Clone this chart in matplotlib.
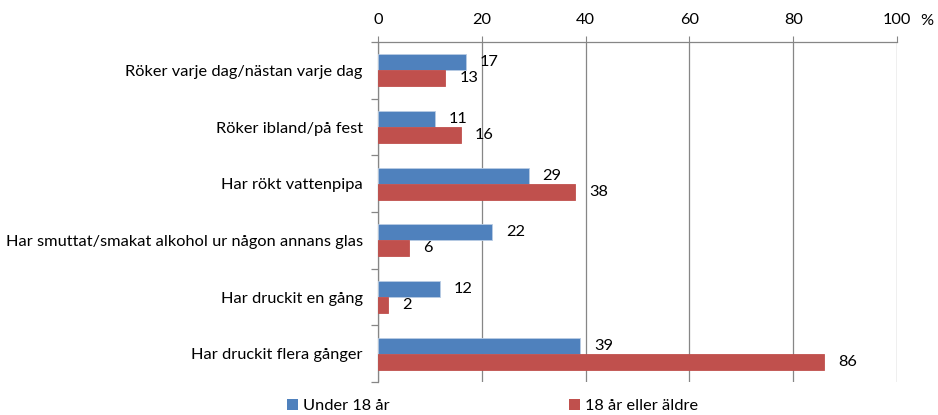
import matplotlib
matplotlib.use("Agg")
import matplotlib.pyplot as plt
import numpy as np
from matplotlib.patches import Patch

categories = [
    "Röker varje dag/nästan varje dag",
    "Röker ibland/på fest",
    "Har rökt vattenpipa",
    "Har smuttat/smakat alkohol ur någon annans glas",
    "Har druckit en gång",
    "Har druckit flera gånger",
]
under18 = [17, 11, 29, 22, 12, 39]
over18 = [13, 16, 38, 6, 2, 86]
series_names = ["Under 18 år", "18 år eller äldre"]
xticks = [0, 20, 40, 60, 80, 100]

plt.rcParams['font.family'] = ['Lato', 'DejaVu Sans']
blue = "#4F81BD"
red = "#C0504D"
fs = 11.8

fig = plt.figure(figsize=(9.38, 4.15), dpi=100)
ax = fig.add_axes([378/938, 1-382/415, (897-378)/938, (382-42)/415])

n = len(categories)
y = np.arange(n)
h = 0.285
ax.barh(y - h/2, under18, height=h, color=blue, edgecolor="#B8CCE4", linewidth=0.6, zorder=3)
ax.barh(y + h/2, over18, height=h, color=red, edgecolor=red, linewidth=0.6, zorder=3)

for yi, v in zip(y, under18):
    ax.annotate(str(v), (v, yi - h/2), xytext=(10, 0), textcoords="offset points",
                va="center", ha="left", fontsize=fs)
for yi, v in zip(y, over18):
    ax.annotate(str(v), (v, yi + h/2), xytext=(10, 0), textcoords="offset points",
                va="center", ha="left", fontsize=fs)

ax.set_xlim(0, 100)
ax.set_ylim(n - 0.5, -0.5)
ax.xaxis.tick_top()
ax.set_xticks(xticks)
ax.set_xticklabels([str(t) for t in xticks], fontsize=fs)
ax.tick_params(axis='x', length=4, color="#868686", pad=7)
ax.grid(axis='x', color="#868686", linewidth=0.9, zorder=0)

ax.set_yticks(y)
ax.set_yticklabels(categories, fontsize=fs)
ax.tick_params(axis='y', which='major', length=0, pad=11)
ax.set_yticks(np.arange(-0.5, n + 0.5, 1), minor=True)
ax.tick_params(axis='y', which='minor', length=5, color="#868686", width=0.9)

for s in ["right", "bottom"]:
    ax.spines[s].set_visible(False)
ax.spines["top"].set_color("#868686")
ax.spines["left"].set_color("#868686")
ax.spines["top"].set_linewidth(0.9)
ax.spines["left"].set_linewidth(0.9)

fig.text(927/938, 1-21/415, "%", fontsize=fs, ha="center", va="center")

handles = [Patch(facecolor=blue), Patch(facecolor=red)]
fig.legend(handles[:1], series_names[:1], loc="center left", bbox_to_anchor=(287/938, 1-406/415),
           frameon=False, fontsize=fs, handlelength=0.65, handleheight=0.65, handletextpad=0.3, borderpad=0, borderaxespad=0)
fig.legend(handles[1:], series_names[1:], loc="center left", bbox_to_anchor=(569/938, 1-406/415),
           frameon=False, fontsize=fs, handlelength=0.65, handleheight=0.65, handletextpad=0.3, borderpad=0, borderaxespad=0)

fig.savefig("out.png", dpi=100)
